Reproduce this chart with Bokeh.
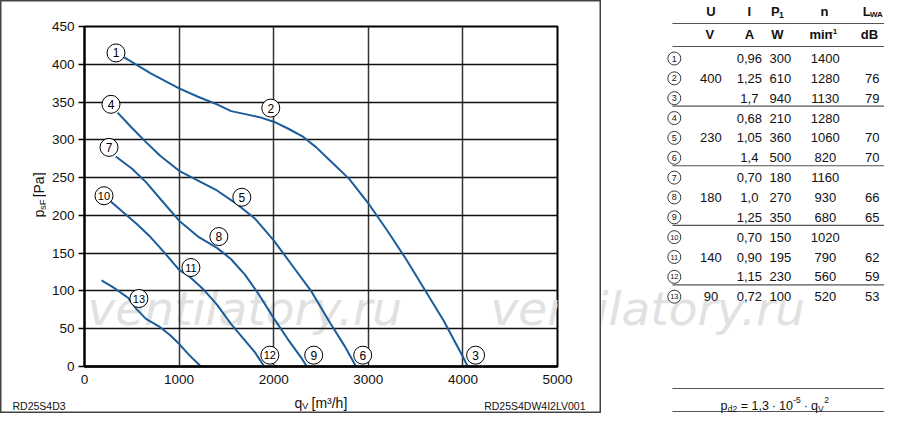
import math
from bokeh.plotting import figure
from bokeh.models import Range1d, FixedTicker, Label, ColumnDataSource
from bokeh.layouts import row, column
from bokeh.embed import file_html
from bokeh.resources import INLINE
from bokeh.core.properties import value

# ---------------- data ----------------
x_ticks = [0, 1000, 2000, 3000, 4000, 5000]
y_ticks = [0, 50, 100, 150, 200, 250, 300, 350, 400, 450]

q_123 = [420, 700, 1000, 1200, 1400, 1550, 1700, 1850, 2000, 2150, 2300, 2450, 2600, 2800, 3000, 3200, 3400, 3600, 3800, 4000, 4050]
p_123 = [409, 388, 368, 357, 347, 338, 334, 330, 324, 315, 305, 290, 272, 248, 216, 180, 142, 101, 60, 13, 0]
q_456 = [350, 500, 650, 800, 1000, 1200, 1400, 1600, 1800, 2000, 2200, 2400, 2600, 2750, 2870]
p_456 = [336, 316, 297, 279, 259, 246, 233, 216, 196, 167, 133, 99, 57, 27, 0]
q_789 = [330, 500, 650, 800, 1000, 1200, 1400, 1550, 1700, 1850, 2000, 2150, 2300, 2350]
p_789 = [278, 262, 244, 222, 193, 172, 157, 142, 121, 94, 64, 36, 10, 0]
q_101112 = [280, 400, 550, 700, 850, 1000, 1100, 1250, 1400, 1550, 1700, 1800, 1900]
p_101112 = [218, 205, 189, 171, 150, 128, 120, 103, 82, 56, 34, 19, 0]
q_13 = [180, 300, 460, 550, 650, 800, 900, 1000, 1100, 1230]
p_13 = [114, 105, 91, 76, 63, 52, 42, 30, 16, 0]

marker_ids = ["1", "2", "3", "4", "5", "6", "7", "8", "9", "10", "11", "12", "13"]
marker_q = [333, 1969, 4134, 280, 1663, 2941, 259, 1420, 2423, 206, 1125, 1959, 575]
marker_p = [415, 342, 15, 347, 224, 15, 290, 172, 15, 226, 131, 15, 90]

tbl_U = ["", "400", "", "", "230", "", "", "180", "", "", "140", "", "90"]
tbl_I = ["0,96", "1,25", "1,7", "0,68", "1,05", "1,4", "0,70", "1,0", "1,25", "0,70", "0,90", "1,15", "0,72"]
tbl_P1 = ["300", "610", "940", "210", "360", "500", "180", "270", "350", "150", "195", "230", "100"]
tbl_n = ["1400", "1280", "1130", "1280", "1060", "820", "1160", "930", "680", "1020", "790", "560", "520"]
tbl_LWA = ["", "76", "79", "", "70", "70", "", "66", "65", "", "62", "59", "53"]

model_left = "RD25S4D3"
model_right = "RD25S4DW4I2LV001"
watermark = "ventilatory.ru"

# ---------------- layout constants (canvas px) ----------------
FONT = "Liberation Sans"
BLUE = "#1b5c9a"
INK = "#111"
EDGE = "#444"
TOTAL_H = 413
LEFT_W = 601
YL_W = 46            # strip holding the rotated y label
CH_H = 390           # chart figure height
BOT_H = TOTAL_H - CH_H
FRAME_L, FRAME_T, FW, FH = 84, 26, 473, 340

# outer border drawn as inset shadows on the pieces of the left block
SH_L = f"inset 1.5px 0 0 0 {EDGE}"
SH_R = f"inset -1.5px 0 0 0 {EDGE}"
SH_T = f"inset 0 1.5px 0 0 {EDGE}"
SH_B = f"inset 0 -1.5px 0 0 {EDGE}"


def px2x(px):
    return (px - FRAME_L) / FW * 5000


def py2y(py):
    return (FRAME_T + FH - py) / FH * 450


def blank(width, height, xr, yr, fill="white"):
    f = figure(width=width, height=height, x_range=Range1d(*xr), y_range=Range1d(*yr),
               output_backend="svg", toolbar_location=None, title=None, min_border=0,
               x_axis_location=None, y_axis_location=None)
    f.outline_line_color = None
    f.grid.visible = False
    f.background_fill_color = fill
    f.border_fill_color = fill
    return f


# ---------------- chart ----------------
CH_W = LEFT_W - YL_W
p = figure(width=CH_W, height=CH_H, x_range=Range1d(0, 5000), y_range=Range1d(0, 450),
           output_backend="svg", toolbar_location=None, title=None,
           min_border_left=FRAME_L - YL_W, min_border_right=CH_W - (FRAME_L - YL_W) - FW,
           min_border_top=FRAME_T, min_border_bottom=CH_H - FRAME_T - FH)
p.background_fill_color = "white"
p.border_fill_color = None
p.styles = {"box-shadow": f"{SH_T}, {SH_R}"}
p.outline_line_color = "black"
p.outline_line_width = 2

p.xaxis.ticker = FixedTicker(ticks=x_ticks)
p.yaxis.ticker = FixedTicker(ticks=y_ticks)
for ax in (p.xaxis, p.yaxis):
    ax.major_label_text_font = FONT
    ax.major_label_text_font_size = "13.5px"
    ax.major_label_text_color = INK
    ax.minor_tick_line_color = None
    ax.axis_line_color = "black"
    ax.major_tick_line_color = "black"
    ax.major_tick_in = 0
p.xaxis.major_tick_out = 0
p.xaxis.axis_line_width = 2.5
p.xaxis.major_label_standoff = 8
p.yaxis.major_tick_out = 6
p.yaxis.major_tick_line_width = 1.5
p.yaxis.axis_line_width = 2
p.yaxis.major_label_standoff = 4

p.xgrid.grid_line_color = "#333"
p.xgrid.grid_line_width = 1.5
p.ygrid.grid_line_color = INK
p.ygrid.grid_line_width = 1.4

wm_kw = dict(text=watermark, text_font="DejaVu Sans", text_font_style="italic",
             text_font_size="47px", text_color="#e1e1e1",
             text_baseline="alphabetic", text_align="left", level="image")
p.add_layout(Label(x=px2x(87), y=py2y(308), **wm_kw))
p.add_layout(Label(x=px2x(490), y=py2y(308), **wm_kw))

for qs, ps in [(q_123, p_123), (q_456, p_456), (q_789, p_789), (q_101112, p_101112), (q_13, p_13)]:
    p.line(qs, ps, line_color=BLUE, line_width=2)

msrc = ColumnDataSource(dict(q=marker_q, p=marker_p, t=marker_ids,
                             fs=["12px" if len(t) == 1 else "11px" for t in marker_ids]))
p.scatter("q", "p", source=msrc, marker="circle", size=18, fill_color="white",
          line_color="black", line_width=1)
p.text("q", "p", text="t", source=msrc, text_align="center", text_baseline="middle",
       text_font=value(FONT), text_font_size="fs", text_color="black")

# ---------------- y label strip: p_sF [Pa] ----------------
yl = blank(YL_W, CH_H, (0, YL_W), (CH_H, 0), fill=None)
yl.styles = {"box-shadow": f"{SH_L}, {SH_T}"}
for xx, yy, s, fs in [(38, 219, "p", "14px"), (41.5, 210.5, "sF", "9.5px"), (38, 196, "[Pa]", "14px")]:
    yl.text(x=[xx], y=[yy], text=[s], angle=math.pi / 2, text_align="left", text_baseline="middle",
            text_font=value(FONT), text_font_size=value(fs), text_color=INK)

# ---------------- bottom strip: q_V [m³/h] and model names ----------------
bt = blank(LEFT_W, BOT_H, (0, LEFT_W), (TOTAL_H, CH_H), fill=None)
bt.styles = {"box-shadow": f"{SH_L}, {SH_B}, {SH_R}"}
for xx, yy, s, fs in [(294, 402, "q", "14px"), (301.5, 405, "V", "9.5px"), (311, 402, "[m³/h]", "14px")]:
    bt.text(x=[xx], y=[yy], text=[s], text_align="left", text_baseline="alphabetic",
            text_font=value(FONT), text_font_size=value(fs), text_color=INK)
bt.text(x=[12], y=[405], text=[model_left], text_align="left", text_baseline="middle",
        text_font=value(FONT), text_font_size=value("10.5px"), text_color=INK)
bt.text(x=[585], y=[405], text=[model_right], text_align="right", text_baseline="middle",
        text_font=value(FONT), text_font_size=value("10.5px"), text_color=INK)

left_block = column(row(yl, p, spacing=0), bt, spacing=0)

# ---------------- table figure ----------------
W2 = 884 - LEFT_W
t = blank(W2, TOTAL_H, (LEFT_W, LEFT_W + W2), (TOTAL_H, 0))
t.add_layout(Label(x=490, y=308, **wm_kw))


def fx(x):  # reference column position -> canvas position (slight compression)
    return 671 + (x - 673) * 0.938


def ry(i):
    return 58 + 19.85 * i


ys = [ry(i) for i in range(len(tbl_I))]
txt = dict(text_align="center", text_baseline="middle", text_font=value(FONT),
           text_font_size=value("13px"), text_color=INK)

hb = dict(text_baseline="middle", text_font=value(FONT), text_font_style="bold", text_color=INK)
t.text(x=[fx(715), fx(756), fx(836)], y=[11, 11, 11], text=["U", "I", "n"], text_align="center",
       text_font_size=value("13px"), **hb)
t.text(x=[fx(779)], y=[11], text=["P"], text_align="left", text_font_size=value("13px"), **hb)
t.text(x=[fx(787.5)], y=[14], text=["1"], text_align="left", text_font_size=value("8.5px"), **hb)
t.text(x=[fx(877)], y=[11], text=["L"], text_align="left", text_font_size=value("13px"), **hb)
t.text(x=[fx(884.5)], y=[14], text=["WA"], text_align="left", text_font_size=value("8px"), **hb)
t.text(x=[fx(714), fx(756), fx(786), fx(884)], y=[34, 34, 34, 34], text=["V", "A", "W", "dB"],
       text_align="center", text_font_size=value("13px"), **hb)
t.text(x=[fx(820)], y=[34], text=["min"], text_align="left", text_font_size=value("13px"), **hb)
t.text(x=[fx(842)], y=[30.5], text=["-1"], text_align="left", text_font_size=value("8px"), **hb)

tsrc = ColumnDataSource(dict(y=ys, ids=marker_ids, U=tbl_U, I=tbl_I, P=tbl_P1, n=tbl_n, L=tbl_LWA,
                             fs=["9px" if len(s) == 1 else "7.5px" for s in marker_ids]))
for col, cx in [("U", 715), ("I", 756), ("P", 789), ("n", 837), ("L", 887)]:
    t.text(x=fx(cx), y="y", text=col, source=tsrc, **txt)
t.scatter(x=fx(676), y="y", source=tsrc, marker="circle", size=13, fill_color="white",
          line_color="#222", line_width=0.9)
t.text(x=fx(676), y="y", text="ids", source=tsrc, text_align="center", text_baseline="middle",
       text_font=value(FONT), text_font_size="fs", text_color=INK)

rule_y = [23, 46, ry(2) + 8, ry(5) + 8, ry(8) + 8, ry(11) + 8, 388, 411]
t.segment(x0=[fx(674)] * len(rule_y), y0=rule_y, x1=[fx(900)] * len(rule_y), y1=rule_y,
          line_color="#555", line_width=1.2)

# formula p_d2 = 1,3 · 10^-5 · q_V^2, laid out piece by piece from estimated advance widths
EM = {"p": .556, "d": .556, "2": .556, "=": .584, "1": .556, ",": .278, "3": .556, "·": .333,
      "0": .556, "-": .333, "5": .556, "q": .556, "V": .667}
MAIN, SUB = 12.5, 8.5
FB = 405
pieces = [  # text, size, baseline shift, gap before
    ("p", MAIN, 0, 0), ("d2", SUB, 3, 0.3), ("=", MAIN, 0, 3.5), ("1,3", MAIN, 0, 3.5),
    ("·", MAIN, 0, 3), ("10", MAIN, 0, 3), ("-5", SUB, -6, 0.3), ("·", MAIN, 0, 3),
    ("q", MAIN, 0, 3), ("V", SUB, 3, 0), ("2", SUB, -6, 0.6),
]
total = sum(sum(EM[c] for c in s) * fs + g for s, fs, _, g in pieces)
cur = fx(783) - total / 2
for s, fs, dy, g in pieces:
    cur += g
    t.text(x=[cur], y=[FB + dy], text=[s], text_align="left", text_baseline="alphabetic",
           text_font=value(FONT), text_font_size=value(f"{fs}px"), text_color=INK)
    cur += sum(EM[c] for c in s) * fs

layout = row(left_block, t, spacing=0)
open("out.html", "w").write(file_html(layout, INLINE))
